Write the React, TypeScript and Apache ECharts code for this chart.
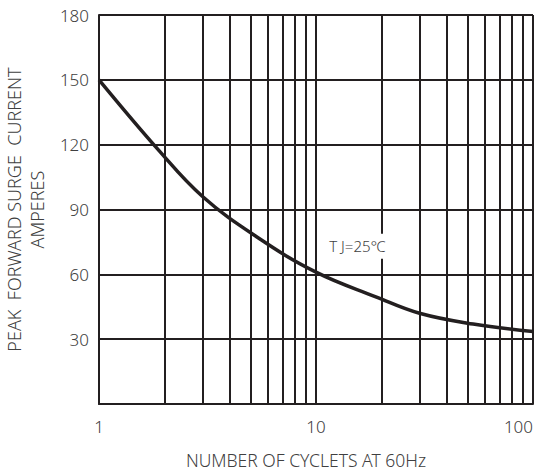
import React, { useEffect, useRef } from "react";
import * as echarts from "echarts";

// Curve: [cycles, amperes]
const cycles = [1, 1.9, 3, 5.3, 10, 19, 30, 53, 100];
const amperes = [150, 117, 96, 77.5, 61, 49.5, 42, 37, 33.5];
// Minor vertical grid lines of the log axis
const minorGrid = [2, 3, 4, 5, 6, 7, 8, 9, 20, 30, 40, 50, 60, 70, 80, 90];
const yTicks = [0, 30, 60, 90, 120, 150, 180];
const annotation = "T J=25℃";

const FONT = "'Noto Sans', 'Noto Sans CJK SC', sans-serif";
const INK = "#231f20";
const TEXT = "#404040";

export default function App() {
  const ref = useRef<HTMLDivElement>(null);
  useEffect(() => {
    document.body.style.margin = "0";
    if (!ref.current) return;
    const chart = echarts.init(ref.current, undefined, { renderer: "svg" });
    chart.setOption({
      animation: false,
      backgroundColor: "#fff",
      grid: { left: 99, right: 11, top: 15, bottom: 67, containLabel: false, outerBoundsMode: "none" },
      xAxis: {
        type: "log",
        logBase: 10,
        min: 1,
        max: 100,
        name: "NUMBER OF CYCLETS AT 60Hz",
        nameLocation: "middle",
        nameGap: 48,
        nameTextStyle: { fontFamily: FONT, fontSize: 17.5, lineHeight: 15, color: TEXT, fontWeight: 300, padding: [0, 20, 0, 0] },
        axisLine: { show: true, lineStyle: { color: INK, width: 2 } },
        axisTick: { show: false },
        axisLabel: { fontFamily: FONT, fontSize: 17, color: TEXT, fontWeight: 300, margin: 14, alignMaxLabel: "right" },
        splitLine: { show: true, lineStyle: { color: INK, width: 2 } },
      },
      yAxis: {
        type: "value",
        min: yTicks[0],
        max: yTicks[yTicks.length - 1],
        interval: 30,
        name: "PEAK  FORWARD SURGE  CURRENT\nAMPERES",
        nameLocation: "middle",
        nameGap: 49,
        nameTextStyle: { fontFamily: FONT, fontSize: 18, color: TEXT, fontWeight: 300, lineHeight: 23, align: "center" },
        axisLine: { show: true, lineStyle: { color: INK, width: 2 } },
        axisTick: { show: false },
        axisLabel: {
          fontFamily: FONT,
          fontSize: 17,
          color: TEXT,
          fontWeight: 300,
          margin: 10,
          formatter: (v: number) => (v === 0 ? "" : String(v)),
        },
        splitLine: { show: true, lineStyle: { color: INK, width: 2 } },
      },
      series: [
        {
          type: "line",
          data: cycles.map((c, i) => [c, amperes[i]]),
          smooth: 0.4,
          showSymbol: false,
          lineStyle: { color: INK, width: 3.5 },
          z: 5,
          markLine: {
            silent: true,
            symbol: "none",
            label: { show: false },
            lineStyle: { color: INK, width: 2, type: "solid" },
            data: minorGrid.map((v) => ({ xAxis: v })),
            z: 1,
          },
          markPoint: {
            symbol: "rect",
            symbolSize: 0,
            data: [{ coord: [15.5, 73] }],
            label: {
              show: true,
              position: "inside",
              formatter: annotation,
              fontFamily: FONT,
              fontSize: 15,
              fontWeight: 300,
              color: TEXT,
              backgroundColor: "#fff",
              padding: [5, 2],
            },
            z: 6,
          },
        },
      ],
    });
    return () => chart.dispose();
  }, []);
  return <div ref={ref} style={{ width: 544, height: 471 }} />;
}
